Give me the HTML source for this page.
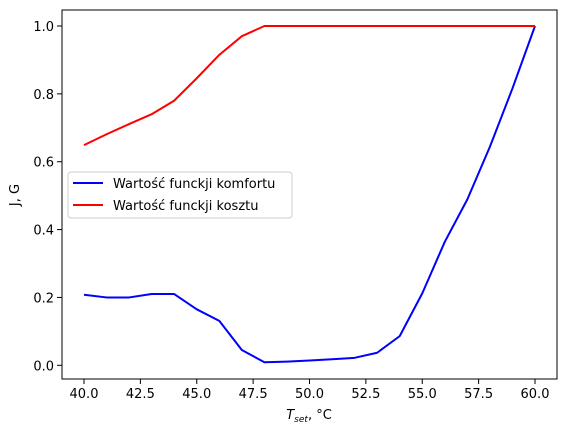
<!DOCTYPE html>
<html><head><meta charset="utf-8"><style>
body{margin:0;background:#fff;}
svg{display:block;font-family:"DejaVu Sans","Liberation Sans",sans-serif;}
</style></head><body>
<svg id="chart" width="567" height="435" viewBox="0 0 567 435" xmlns="http://www.w3.org/2000/svg"></svg>
<script>
const xValues=[40,41,42,43,44,45,46,47,48,49,50,51,52,53,54,55,56,57,58,59,60];
const comfortValues=[0.208,0.200,0.200,0.210,0.210,0.165,0.131,0.045,0.009,0.011,0.014,0.018,0.022,0.037,0.086,0.212,0.364,0.489,0.644,0.816,1.0];
const costValues=[0.649,0.681,0.711,0.740,0.780,0.846,0.915,0.970,1,1,1,1,1,1,1,1,1,1,1,1,1];
const xTicks=[40,42.5,45,47.5,50,52.5,55,57.5,60];
const xTickLabels=["40.0","42.5","45.0","47.5","50.0","52.5","55.0","57.5","60.0"];
const yTicks=[0,0.2,0.4,0.6,0.8,1.0];
const yTickLabels=["0.0","0.2","0.4","0.6","0.8","1.0"];

const NS="http://www.w3.org/2000/svg";
const svg=document.getElementById('chart');
const L=62,R=557,T=10,B=379;
const xs=v=>84+(v-40)*(535-84)/20;
const ys=v=>365.3-v*339.3;
function mk(tag,attrs){const e=document.createElementNS(NS,tag);for(const k in attrs)e.setAttribute(k,attrs[k]);svg.appendChild(e);return e;}

const frame=mk('rect',{x:L,y:T,width:R-L,height:B-T,fill:'none',stroke:'#000','stroke-width':1});



xTicks.forEach((t,i)=>{
  const x=xs(t);
  const tk=mk('line',{x1:x,x2:x,y1:B,y2:B+5,stroke:'#000'});
  
  
  const lb=mk('text',{x:x,y:B+19,'text-anchor':'middle','font-size':13,fill:'#000'});
  lb.textContent=xTickLabels[i];
  
  
});
yTicks.forEach((t,i)=>{
  const y=ys(t);
  const tk=mk('line',{x1:L-5,x2:L,y1:y,y2:y,stroke:'#000'});
  
  
  const lb=mk('text',{x:L-8,y:y+5,'text-anchor':'end','font-size':13,fill:'#000'});
  lb.textContent=yTickLabels[i];
  
  
});

function series(vals,color,name){
  const p=mk('polyline',{points:xValues.map((x,i)=>xs(x)+','+ys(vals[i])).join(' '),fill:'none',stroke:color,'stroke-width':2,'stroke-linejoin':'round'});
  
  
}
series(comfortValues,'#0000ff','comfort-line');
series(costValues,'#ff0000','cost-line');

const yt=mk('text',{x:0,y:0,'font-size':13,'text-anchor':'middle',transform:'translate(19,195) rotate(-90)'});
yt.textContent='J, G';



const xt=mk('text',{x:309,y:419,'font-size':13,'text-anchor':'middle'});
xt.innerHTML='<tspan font-style="italic">T</tspan><tspan font-style="italic" font-size="9" dy="3">set</tspan><tspan dy="-3">, °C</tspan>';



const lg=mk('rect',{x:68,y:172,width:224,height:46,rx:3,fill:'#fff','fill-opacity':0.8,stroke:'#ccc'});


[['#0000ff','Wartość funckji komfortu',189],['#ff0000','Wartość funckji kosztu',211]].forEach(([c,t,y])=>{
  const l=mk('line',{x1:73,x2:103,y1:y-6,y2:y-6,stroke:c,'stroke-width':2});
  
  
  const tx=mk('text',{x:113,y:y-1,'font-size':13,fill:'#000'});
  tx.textContent=t;
  
  
});
</script>
</body></html>
